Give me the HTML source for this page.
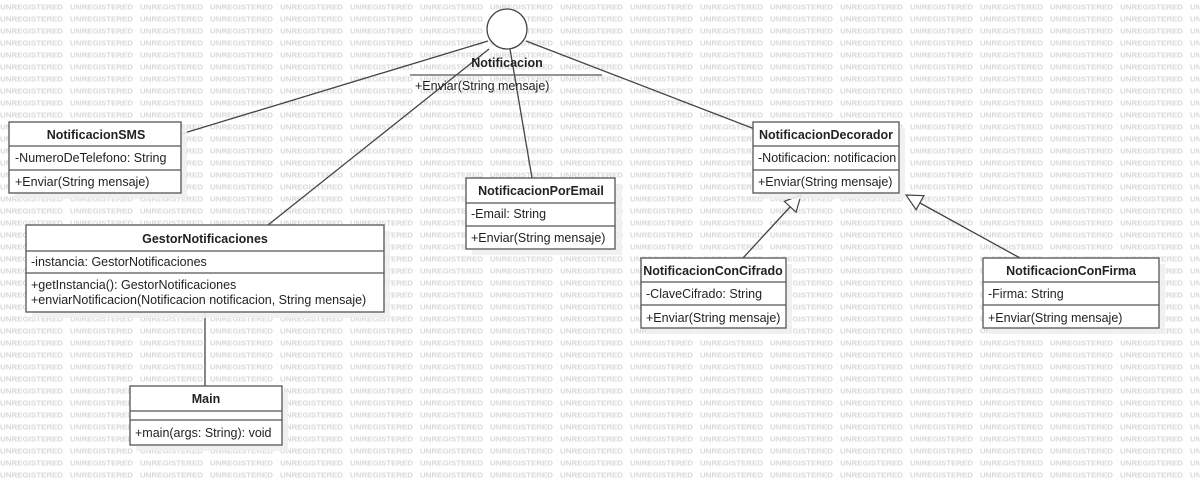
<!DOCTYPE html>
<html><head><meta charset="utf-8"><style>
html,body{margin:0;padding:0;background:#fff;}
svg{display:block;}
text{font-family:"Liberation Sans",sans-serif;}
</style></head><body>
<svg width="1200" height="484" viewBox="0 0 1200 484" xmlns="http://www.w3.org/2000/svg">
<defs>
<pattern id="wm" x="0" y="0" width="70" height="12" patternUnits="userSpaceOnUse">
<text x="0" y="9.5" font-size="7.5" font-weight="bold" fill="#d8d8d8" textLength="63" lengthAdjust="spacingAndGlyphs">UNREGISTERED</text>
</pattern>
</defs>
<rect width="1200" height="484" fill="url(#wm)"/>

<g stroke="#444" stroke-width="1.3" fill="none">
<line x1="181" y1="134" x2="488" y2="41"/>
<line x1="268" y1="225" x2="489" y2="49"/>
<line x1="510" y1="49" x2="532" y2="178"/>
<line x1="526" y1="41" x2="765" y2="133"/>
<line x1="205" y1="312" x2="205" y2="386"/>
<line x1="743" y1="258" x2="790" y2="207"/>
<line x1="1020" y1="258" x2="920" y2="203"/>
</g>
<polygon points="801,195 796.1,212.2 784.3,201.4" fill="#fff" stroke="#444" stroke-width="1.2"/>
<polygon points="906,195 923.9,195.7 916.1,209.7" fill="#fff" stroke="#444" stroke-width="1.2"/>

<circle cx="507" cy="29" r="20" fill="#fff" stroke="#444" stroke-width="1.3"/>
<text x="507" y="67" font-size="12.5" font-weight="bold" text-anchor="middle" fill="#222">Notificacion</text>
<line x1="410" y1="75" x2="602" y2="75" stroke="#555" stroke-width="1.3"/>
<text x="415" y="90" font-size="12.5" fill="#222">+Enviar(String mensaje)</text>

<g fill="#f0f0f0" opacity="0.9">
<rect x="15" y="128" width="172" height="71"/>
<rect x="472" y="184" width="150" height="71"/>
<rect x="759" y="128" width="146" height="71"/>
<rect x="647" y="264" width="145" height="70"/>
<rect x="989" y="264" width="176" height="70"/>
<rect x="32" y="231" width="358" height="87"/>
<rect x="136" y="392" width="152" height="59"/>
</g>

<g stroke="#555" stroke-width="1.3" fill="#fff">
<rect x="9" y="122" width="172" height="71"/>
<rect x="466" y="178" width="149" height="71"/>
<rect x="753" y="122" width="146" height="71"/>
<rect x="641" y="258" width="145" height="70"/>
<rect x="983" y="258" width="176" height="70"/>
<rect x="26" y="225" width="358" height="87"/>
<rect x="130" y="386" width="152" height="59"/>
</g>
<g stroke="#555" stroke-width="1.3">
<line x1="9" y1="146" x2="181" y2="146"/><line x1="9" y1="170" x2="181" y2="170"/>
<line x1="466" y1="203" x2="615" y2="203"/><line x1="466" y1="226" x2="615" y2="226"/>
<line x1="753" y1="146" x2="899" y2="146"/><line x1="753" y1="170" x2="899" y2="170"/>
<line x1="641" y1="282" x2="786" y2="282"/><line x1="641" y1="305" x2="786" y2="305"/>
<line x1="983" y1="282" x2="1159" y2="282"/><line x1="983" y1="305" x2="1159" y2="305"/>
<line x1="26" y1="251" x2="384" y2="251"/><line x1="26" y1="273" x2="384" y2="273"/>
<line x1="130" y1="411" x2="282" y2="411"/><line x1="130" y1="420" x2="282" y2="420"/>
</g>

<g font-size="12.5" fill="#222">
<text x="96" y="139" font-weight="bold" text-anchor="middle">NotificacionSMS</text>
<text x="15" y="162">-NumeroDeTelefono: String</text>
<text x="15" y="186">+Enviar(String mensaje)</text>

<text x="541" y="195" font-weight="bold" text-anchor="middle">NotificacionPorEmail</text>
<text x="471" y="218">-Email: String</text>
<text x="471" y="242">+Enviar(String mensaje)</text>

<text x="826" y="139" font-weight="bold" text-anchor="middle">NotificacionDecorador</text>
<text x="758" y="162">-Notificacion: notificacion</text>
<text x="758" y="186">+Enviar(String mensaje)</text>

<text x="713" y="275" font-weight="bold" text-anchor="middle">NotificacionConCifrado</text>
<text x="646" y="298">-ClaveCifrado: String</text>
<text x="646" y="322">+Enviar(String mensaje)</text>

<text x="1071" y="275" font-weight="bold" text-anchor="middle">NotificacionConFirma</text>
<text x="988" y="298">-Firma: String</text>
<text x="988" y="322">+Enviar(String mensaje)</text>

<text x="205" y="243" font-weight="bold" text-anchor="middle">GestorNotificaciones</text>
<text x="31" y="266">-instancia: GestorNotificaciones</text>
<text x="31" y="289">+getInstancia(): GestorNotificaciones</text>
<text x="31" y="304">+enviarNotificacion(Notificacion notificacion, String mensaje)</text>

<text x="206" y="403" font-weight="bold" text-anchor="middle">Main</text>
<text x="135" y="437">+main(args: String): void</text>
</g>
</svg>
</body></html>
